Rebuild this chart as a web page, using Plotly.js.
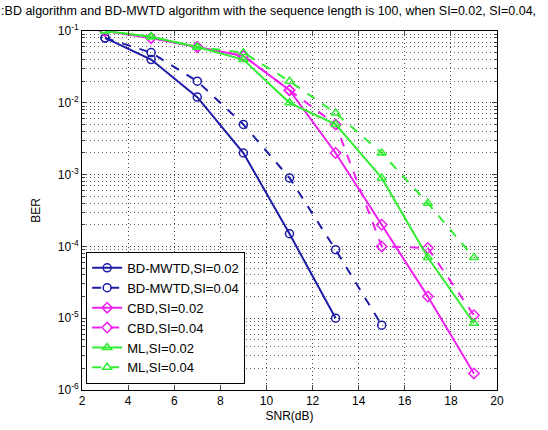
<!DOCTYPE html>
<html>
<head>
<meta charset="utf-8">
<script src="https://cdn.plot.ly/plotly-3.0.1.min.js"></script>
<style>html,body{margin:0;padding:0;background:#fff;}#chart{width:548px;height:430px;}</style>
</head>
<body>
<div id="chart"></div>
<script>
const snrBD1 = [3, 5, 7, 9, 11, 13];
const berBD1 = [0.08, 0.04, 0.012, 0.002, 1.5e-4, 1.0e-5];
const snrBD2 = [3, 5, 7, 9, 11, 13, 15];
const berBD2 = [0.08, 0.05, 0.02, 0.005, 9e-4, 9e-5, 8e-6];
const snrAll = [3, 5, 7, 9, 11, 13, 15, 17, 19];
const berCBD1 = [0.1, 0.08, 0.06, 0.045, 0.015, 0.002, 2e-4, 2e-5, 1.7e-6];
const berCBD2 = [0.1, 0.08, 0.06, 0.045, 0.015, 0.005, 1e-4, 9.5e-5, 1.1e-5];
const berML1 = [0.1, 0.083, 0.06, 0.04, 0.01, 0.005, 9e-4, 7e-5, 8.5e-6];
const berML2 = [0.1, 0.083, 0.06, 0.05, 0.02, 0.0072, 0.002, 4e-4, 7e-5];
const names = ['BD-MWTD,SI=0.02','BD-MWTD,SI=0.04','CBD,SI=0.02','CBD,SI=0.04','ML,SI=0.02','ML,SI=0.04'];
const yTickVals = [1e-6, 1e-5, 1e-4, 1e-3, 1e-2, 1e-1];
const yTickText = ['10<sup>-6</sup>','10<sup>-5</sup>','10<sup>-4</sup>','10<sup>-3</sup>','10<sup>-2</sup>','10<sup>-1</sup>'];
const xTickVals = [2, 4, 6, 8, 10, 12, 14, 16, 18, 20];

const blue = '#1c1ca6', magenta = '#f020f0', green = '#33ee33';
function tr(x, y, name, color, dash, symbol) {
  return {x: x, y: y, name: name, type: 'scatter', mode: 'lines+markers',
    line: {color: color, width: 2, dash: dash},
    marker: {symbol: symbol, size: 8, color: color, line: {color: color, width: 1.5}}};
}
const data = [
  tr(snrBD1, berBD1, names[0], blue, 'solid', 'circle-open'),
  tr(snrBD2, berBD2, names[1], blue, 'dash', 'circle-open'),
  tr(snrAll, berCBD1, names[2], magenta, 'solid', 'diamond-open'),
  tr(snrAll, berCBD2, names[3], magenta, 'dash', 'diamond-open'),
  tr(snrAll, berML1, names[4], green, 'solid', 'triangle-up-open'),
  tr(snrAll, berML2, names[5], green, 'dash', 'triangle-up-open')
];
const layout = {
  width: 548, height: 430,
  margin: {l: 82, r: 51, t: 31, b: 40},
  paper_bgcolor: '#fff', plot_bgcolor: '#fff',
  font: {family: 'Liberation Sans, Arial, sans-serif', size: 12, color: '#000'},
  title: {text: ':BD algorithm and BD-MWTD algorithm with the sequence length is 100, when SI=0.02, SI=0.04,',
    x: 0.002, xanchor: 'left', xref: 'container', y: 0.985, yanchor: 'top', font: {size: 12.5, color: '#000'}},
  xaxis: {range: [2, 20], tickmode: 'array', tickvals: xTickVals, ticks: 'inside', ticklen: 5,
    showline: true, mirror: 'ticks', linecolor: '#000', linewidth: 1,
    showgrid: true, gridcolor: '#444', griddash: '1px,3px', gridwidth: 1, zeroline: false,
    title: {text: 'SNR(dB)', standoff: 4, font: {size: 12}}},
  yaxis: {type: 'log', range: [-6, -1], tickmode: 'array', tickvals: yTickVals, ticktext: yTickText,
    ticks: 'inside', ticklen: 5, showline: true, mirror: 'ticks', linecolor: '#000', linewidth: 1,
    showgrid: true, gridcolor: '#444', griddash: '1px,3px', gridwidth: 1, zeroline: false,
    minor: {showgrid: true, gridcolor: '#666', griddash: '1px,3px', gridwidth: 1, ticks: 'inside', ticklen: 3, dtick: 'D1'},
    title: {text: 'BER', standoff: 14, font: {size: 12}}},
  showlegend: true,
  legend: {x: 0.01, y: 0.017, xanchor: 'left', yanchor: 'bottom', bgcolor: '#fff',
    bordercolor: '#000', borderwidth: 1, font: {size: 13}, tracegroupgap: 0, itemwidth: 30}
};
Plotly.newPlot('chart', data, layout, {displayModeBar: false, staticPlot: true});
</script>
</body>
</html>
